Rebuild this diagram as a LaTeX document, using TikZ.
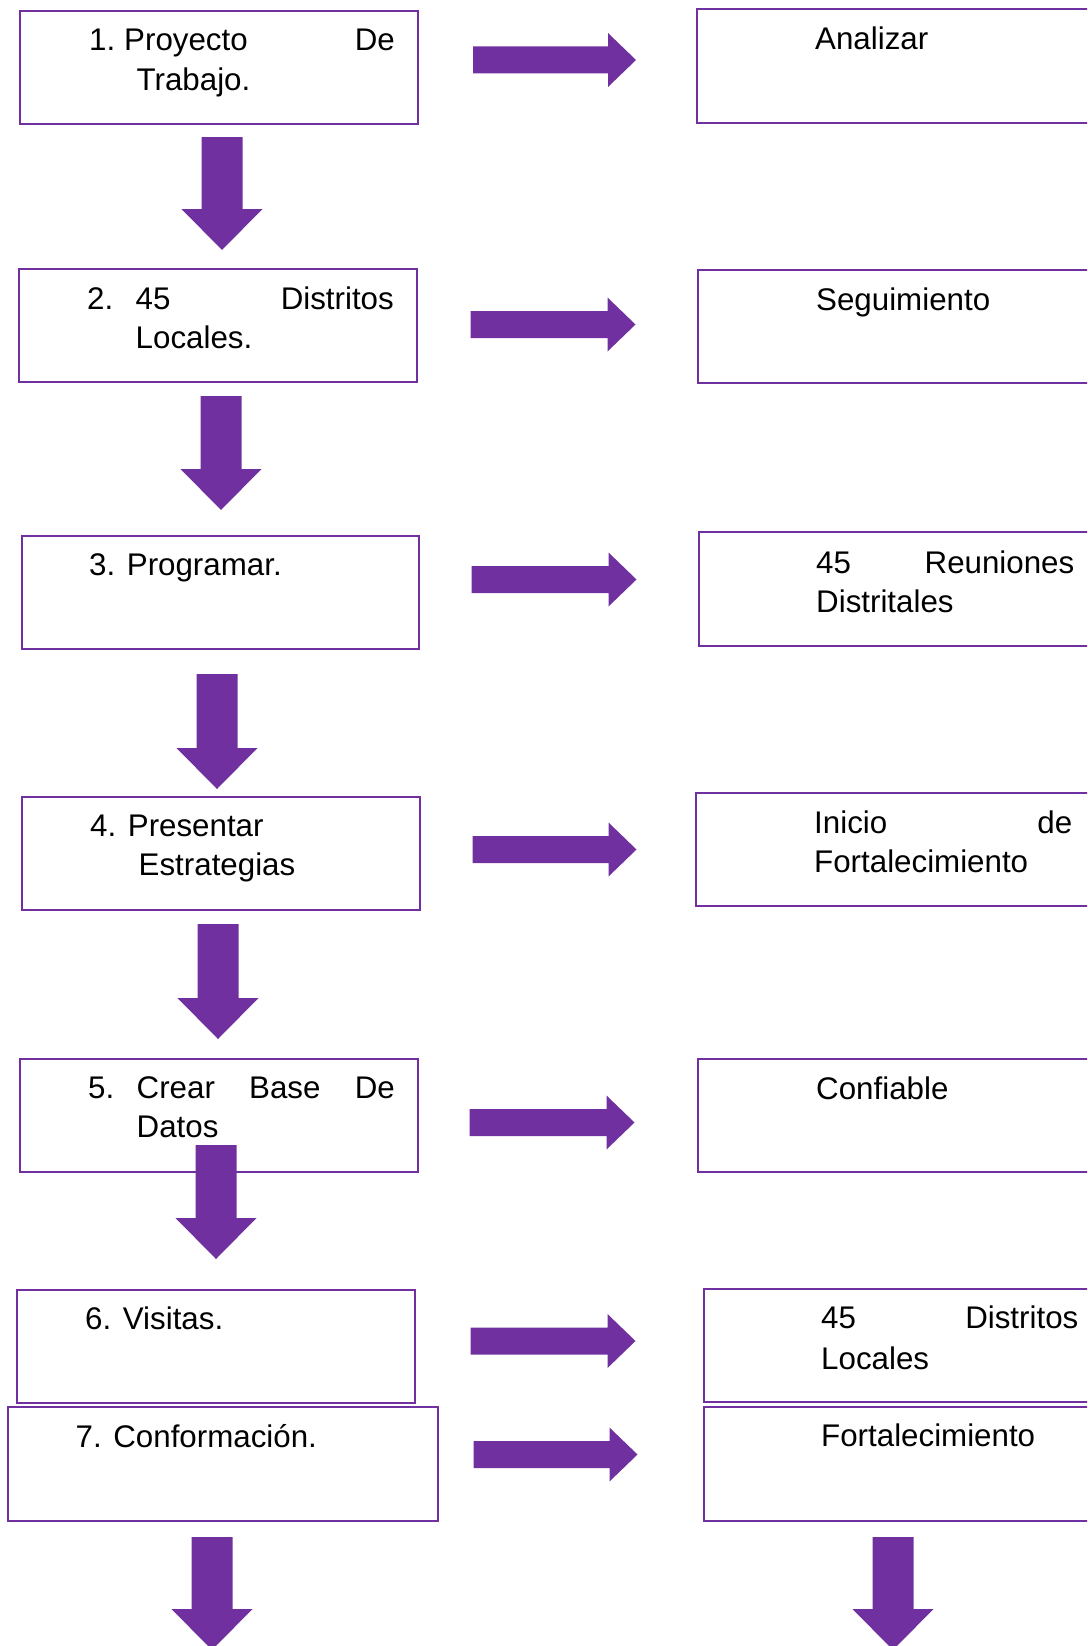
\documentclass[tikz,border=0pt]{standalone}
\usepackage{fontspec}
\setmainfont{Liberation Sans}
\usetikzlibrary{calc}
\definecolor{flowpurple}{HTML}{7030A0}

% block arrow pointing right, from tail coordinate #1 to tip coordinate #2
\newcommand\blockright[2]{%
  \fill[arrowfill] ($(#1)+(0,-13.5)$) -- ($(#2)+(-28,-13.5)$) -- ($(#2)+(-28,-27)$)
    -- (#2) -- ($(#2)+(-28,27)$) -- ($(#2)+(-28,13.5)$) -- ($(#1)+(0,13.5)$) -- cycle;}
% block arrow pointing down, from tail coordinate #1 to tip coordinate #2
\newcommand\blockdown[2]{%
  \fill[arrowfill] ($(#1)+(-20.5,0)$) -- ($(#2)+(-20.5,-41)$) -- ($(#2)+(-40.5,-41)$)
    -- (#2) -- ($(#2)+(40.5,-41)$) -- ($(#2)+(20.5,-41)$) -- ($(#1)+(20.5,0)$) -- cycle;}

\begin{document}
\begin{tikzpicture}[x=1pt,y=-1pt,
  stepbox/.style={draw=flowpurple, line width=2pt, fill=white, rectangle,
    inner sep=0pt, anchor=north west, minimum height=113pt},
  arrowfill/.style={fill=flowpurple},
  lbl/.style={inner sep=0pt, anchor=base west, font=\fontsize{31.3}{39}\selectfont},
  lblr/.style={lbl, anchor=base east}]
\useasboundingbox (0,0) rectangle (1087,1646);
\clip (0,0) rectangle (1087,1646);

% left column boxes
\node[stepbox, minimum width=398pt] (b1) at (19,10) {};
\node[stepbox, minimum width=398pt] (b2) at (18,268) {};
\node[stepbox, minimum width=397pt] (b3) at (21,535) {};
\node[stepbox, minimum width=398pt] (b4) at (21,796) {};
\node[stepbox, minimum width=398pt] (b5) at (19,1058) {};
\node[stepbox, minimum width=398pt] (b6) at (16,1289) {};
\node[stepbox, minimum width=430pt, minimum height=114pt] (b7) at (7,1406) {};

% right column boxes (running past the right edge)
\node[stepbox, minimum width=404pt, minimum height=114pt] (r1) at (696,8) {};
\node[stepbox, minimum width=403pt] (r2) at (697,269) {};
\node[stepbox, minimum width=402pt, minimum height=114pt] (r3) at (698,531) {};
\node[stepbox, minimum width=405pt] (r4) at (695,792) {};
\node[stepbox, minimum width=403pt] (r5) at (697,1058) {};
\node[stepbox, minimum width=397pt] (r6) at (703,1288) {};
\node[stepbox, minimum width=397pt, minimum height=114pt] (r7) at (703,1406) {};

% left column texts
\node[lbl] (t1a) at (89,51) {1.};
\node[lbl] (t1b) at (124,51) {Proyecto};
\node[lblr] (t1c) at (395,51) {De};
\node[lbl] (t1d) at (136.5,90) {Trabajo.};

\node[lbl] (t2a) at (87,309) {2.};
\node[lbl] (t2b) at (135.5,309) {45};
\node[lblr] (t2c) at (394,309) {Distritos};
\node[lbl] (t2d) at (135.5,348) {Locales.};

\node[lbl] (t3a) at (89,575) {3. Programar.};

\node[lbl] (t4a) at (90,836.5) {4. Presentar};
\node[lbl] (t4b) at (138.5,875) {Estrategias};

\node[lbl] (t5a) at (88,1098) {5.};
\node[lbl] (t5b) at (136.5,1098) {Crear};
\node[lbl] (t5c) at (249,1098) {Base};
\node[lblr] (t5d) at (395,1098) {De};
\node[lbl] (t5e) at (136.5,1137) {Datos};

\node[lbl] (t6a) at (85,1329) {6. Visitas.};
\node[lbl] (t7a) at (75.5,1447) {7. Conformación.};

% right column texts
\node[lbl] (s1) at (815,49) {Analizar};
\node[lbl] (s2) at (816,310) {Seguimiento};
\node[lbl] (s3a) at (816,573) {45};
\node[lblr] (s3b) at (1074.5,573) {Reuniones};
\node[lbl] (s3c) at (816,612) {Distritales};
\node[lbl] (s4a) at (814,833) {Inicio};
\node[lblr] (s4b) at (1072.5,833) {de};
\node[lbl] (s4c) at (814,872) {Fortalecimiento};
\node[lbl] (s5) at (816,1099) {Confiable};
\node[lbl] (s6a) at (821,1328) {45};
\node[lblr] (s6b) at (1078.5,1328) {Distritos};
\node[lbl] (s6c) at (821,1369) {Locales};
\node[lbl] (s7) at (821,1446) {Fortalecimiento};

% arrow end points
\coordinate (a1s) at (473,60);     \coordinate (a1e) at (636,60);
\coordinate (a2s) at (470.5,324.5); \coordinate (a2e) at (635.5,324.5);
\coordinate (a3s) at (471.5,579.5); \coordinate (a3e) at (636.5,579.5);
\coordinate (a4s) at (472.5,849.5); \coordinate (a4e) at (636.5,849.5);
\coordinate (a5s) at (469.5,1122.5); \coordinate (a5e) at (634.5,1122.5);
\coordinate (a6s) at (470.5,1341);  \coordinate (a6e) at (635.5,1341);
\coordinate (a7s) at (473.5,1454.5); \coordinate (a7e) at (637.5,1454.5);

\coordinate (d1s) at (222,137);  \coordinate (d1e) at (222,250);
\coordinate (d2s) at (221,396);  \coordinate (d2e) at (221,510);
\coordinate (d3s) at (217,674);  \coordinate (d3e) at (217,789);
\coordinate (d4s) at (218,924);  \coordinate (d4e) at (218,1039);
\coordinate (d5s) at (216,1145); \coordinate (d5e) at (216,1259);
\coordinate (d6s) at (212,1537); \coordinate (d6e) at (212,1650);
\coordinate (d7s) at (893,1537); \coordinate (d7e) at (893,1650);

% horizontal block arrows
\blockright{a1s}{a1e}
\blockright{a2s}{a2e}
\blockright{a3s}{a3e}
\blockright{a4s}{a4e}
\blockright{a5s}{a5e}
\blockright{a6s}{a6e}
\blockright{a7s}{a7e}

% vertical block arrows
\blockdown{d1s}{d1e}
\blockdown{d2s}{d2e}
\blockdown{d3s}{d3e}
\blockdown{d4s}{d4e}
\blockdown{d5s}{d5e}
\blockdown{d6s}{d6e}
\blockdown{d7s}{d7e}
\end{tikzpicture}
\end{document}
